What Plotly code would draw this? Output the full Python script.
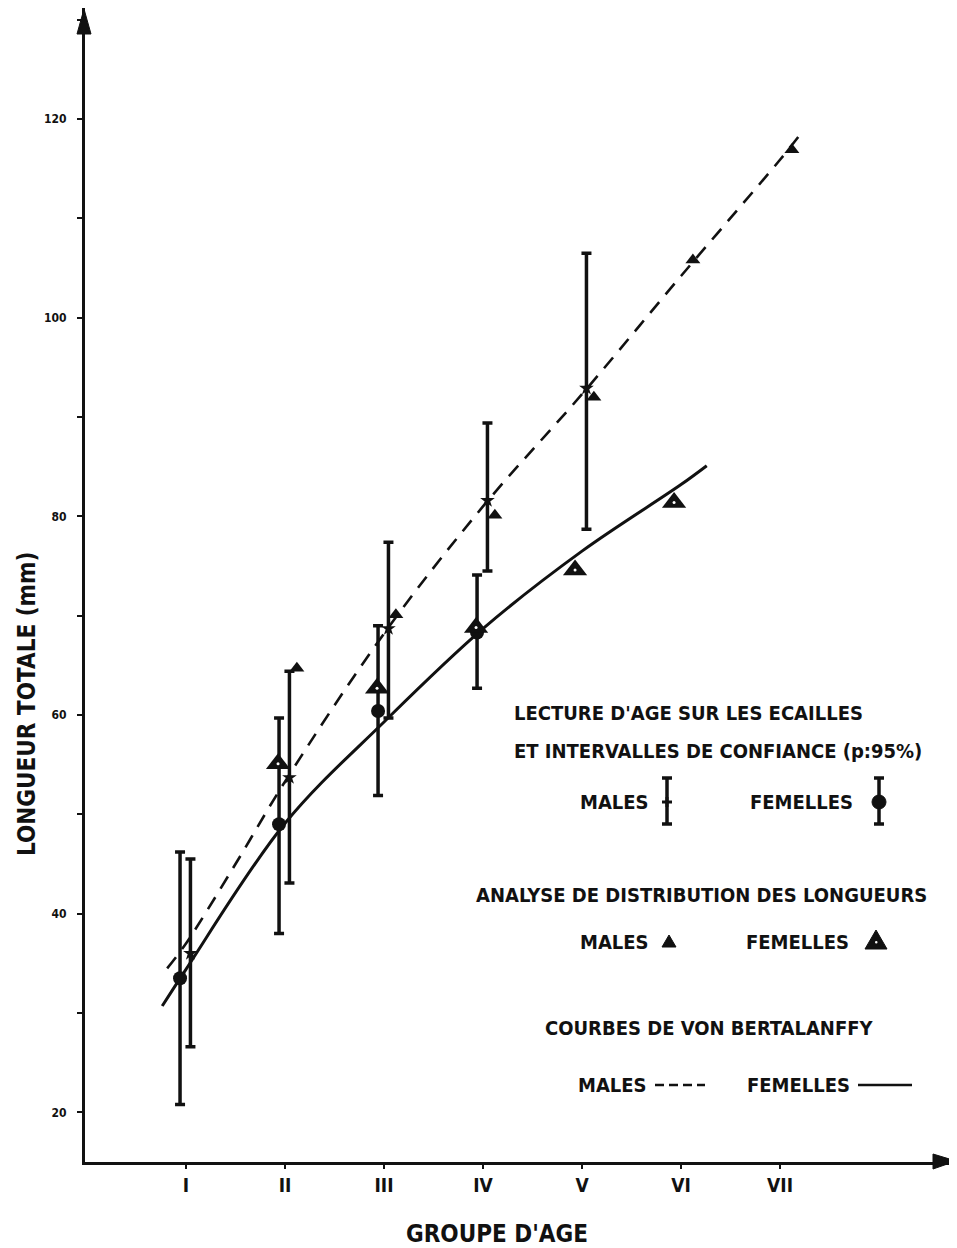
import plotly.graph_objects as go

# Scale readings (lecture d'age sur les ecailles) with 95% confidence limits
age_scale_f = [1, 2, 3, 4]
len_scale_f = [33.5, 49.0, 60.4, 68.3]
ci_hi_f = [46.2, 59.7, 69.0, 74.1]
ci_lo_f = [20.8, 38.0, 51.9, 62.7]

age_scale_m = [1, 2, 3, 4, 5]
len_scale_m = [36.0, 53.7, 68.7, 81.6, 92.9]
ci_hi_m = [45.5, 64.4, 77.4, 89.4, 106.5]
ci_lo_m = [26.6, 43.1, 59.7, 74.5, 78.7]

# Length distribution analysis
age_dist_m = [2, 3, 4, 5, 6, 7]
len_dist_m = [64.7, 70.1, 80.1, 92.0, 105.8, 116.9]
age_dist_f = [2, 3, 4, 5, 6]
len_dist_f = [55.1, 62.7, 68.8, 74.6, 81.4]

# Von Bertalanffy curves
curve_age_m = [0.81, 1.0, 1.5, 2.0, 3.0, 4.0, 5.0, 6.0, 7.0, 7.2]
curve_len_m = [34.5, 37.0, 45.0, 53.3, 68.2, 81.0, 92.3, 104.2, 115.9, 118.4]
curve_age_f = [0.76, 1.0, 2.0, 3.0, 4.0, 5.0, 6.0, 6.26]
curve_len_f = [30.7, 34.4, 49.1, 59.3, 68.7, 76.5, 83.2, 85.1]

age_ticks = [1, 2, 3, 4, 5, 6, 7]
age_labels = ["I", "II", "III", "IV", "V", "VI", "VII"]
len_ticks = [20, 40, 60, 80, 100, 120]

FONT = "Liberation Sans Narrow, DejaVu Sans Condensed, Arial Narrow, Liberation Sans, sans-serif"
BLACK = "#111111"

# page offset of the plot div (body margin) and plot area in page pixels
OFF = 8
W, H = 957 - OFF, 1248 - OFF
L, R, T, B = 85, 950, 8, 1162


def px(x):
    return (x - L) / (R - L)


def py(y):
    return (B - y) / (B - T)


fig = go.Figure()

fig.add_trace(go.Scatter(
    x=curve_age_m, y=curve_len_m, mode="lines", line_shape="spline",
    line=dict(color=BLACK, width=2.6, dash="14px,10px"), showlegend=False))
fig.add_trace(go.Scatter(
    x=curve_age_f, y=curve_len_f, mode="lines", line_shape="spline",
    line=dict(color=BLACK, width=3), showlegend=False))

fig.add_trace(go.Scatter(
    x=[a - 0.06 for a in age_scale_f], y=len_scale_f, mode="markers",
    marker=dict(symbol="circle", size=14, color=BLACK),
    error_y=dict(type="data", symmetric=False,
                 array=[h - v for h, v in zip(ci_hi_f, len_scale_f)],
                 arrayminus=[v - l for v, l in zip(len_scale_f, ci_lo_f)],
                 color=BLACK, thickness=3.5, width=5),
    showlegend=False))
fig.add_trace(go.Scatter(
    x=[a + 0.045 for a in age_scale_m], y=len_scale_m, mode="markers",
    marker=dict(symbol="star", size=11, color=BLACK),
    error_y=dict(type="data", symmetric=False,
                 array=[h - v for h, v in zip(ci_hi_m, len_scale_m)],
                 arrayminus=[v - l for v, l in zip(len_scale_m, ci_lo_m)],
                 color=BLACK, thickness=3.5, width=5),
    showlegend=False))

fig.add_trace(go.Scatter(
    x=[a + 0.12 for a in age_dist_m], y=len_dist_m, mode="markers",
    marker=dict(symbol="triangle-up", size=13, color=BLACK),
    showlegend=False))
fig.add_trace(go.Scatter(
    x=[a - 0.07 for a in age_dist_f], y=len_dist_f, mode="markers",
    marker=dict(symbol="triangle-up", size=21, color=BLACK),
    showlegend=False))
fig.add_trace(go.Scatter(
    x=[a - 0.07 for a in age_dist_f], y=len_dist_f, mode="markers",
    marker=dict(symbol="circle", size=3, color="white"),
    showlegend=False))

shapes = []
# axis arrows
shapes.append(dict(type="path", xref="paper", yref="paper",
                   path=f"M {px(84)} {py(9)} L {px(77)} {py(34)} L {px(91)} {py(34)} Z",
                   fillcolor=BLACK, line=dict(color=BLACK, width=1)))
shapes.append(dict(type="path", xref="paper", yref="paper",
                   path=f"M {px(956)} {py(1161)} L {px(933)} {py(1154)} L {px(933)} {py(1169)} Z",
                   fillcolor=BLACK, line=dict(color=BLACK, width=1)))


def legend_bar(x, y0, y1):
    shapes.append(dict(type="line", xref="paper", yref="paper", x0=px(x), x1=px(x),
                       y0=py(y0), y1=py(y1), line=dict(color=BLACK, width=3.5)))
    for yy in (y0, y1):
        shapes.append(dict(type="line", xref="paper", yref="paper", x0=px(x - 5), x1=px(x + 5),
                           y0=py(yy), y1=py(yy), line=dict(color=BLACK, width=3.5)))


legend_bar(667, 778, 824)
legend_bar(879, 778, 824)
shapes.append(dict(type="circle", xref="paper", yref="paper",
                   x0=px(872), x1=px(886), y0=py(795), y1=py(809),
                   fillcolor=BLACK, line=dict(color=BLACK, width=1)))
shapes.append(dict(type="path", xref="paper", yref="paper",
                   path=f"M {px(662)} {py(802)} L {px(672)} {py(802)} M {px(667)} {py(797)} L {px(667)} {py(807)}",
                   line=dict(color=BLACK, width=3)))
# triangles
shapes.append(dict(type="path", xref="paper", yref="paper",
                   path=f"M {px(669)} {py(935)} L {px(676)} {py(947)} L {px(662)} {py(947)} Z",
                   fillcolor=BLACK, line=dict(color=BLACK, width=1)))
shapes.append(dict(type="path", xref="paper", yref="paper",
                   path=f"M {px(876)} {py(930)} L {px(887)} {py(949)} L {px(865)} {py(949)} Z",
                   fillcolor=BLACK, line=dict(color=BLACK, width=1)))
shapes.append(dict(type="circle", xref="paper", yref="paper",
                   x0=px(875), x1=px(877.5), y0=py(941), y1=py(943.5),
                   fillcolor="white", line=dict(color="white", width=0)))
# curve samples
shapes.append(dict(type="line", xref="paper", yref="paper", x0=px(655), x1=px(705),
                   y0=py(1085), y1=py(1085), line=dict(color=BLACK, width=2.6, dash="9px,5px")))
shapes.append(dict(type="line", xref="paper", yref="paper", x0=px(858), x1=px(912),
                   y0=py(1085), y1=py(1085), line=dict(color=BLACK, width=2.6)))

annotations = []


def label(text, x, y, size=20):
    annotations.append(dict(text=text, xref="paper", yref="paper", x=px(x), y=py(y),
                            xanchor="left", yanchor="middle", showarrow=False,
                            font=dict(family=FONT, size=size, color=BLACK, weight="bold")))


label("LECTURE D'AGE SUR LES ECAILLES", 512, 713)
label("ET INTERVALLES DE CONFIANCE (p:95%)", 512, 751)
label("MALES", 578, 802)
label("FEMELLES", 748, 802)
label("ANALYSE DE DISTRIBUTION DES LONGUEURS", 474, 895)
label("MALES", 578, 942)
label("FEMELLES", 744, 942)
label("COURBES DE VON BERTALANFFY", 543, 1028)
label("MALES", 576, 1085)
label("FEMELLES", 745, 1085)

annotations.append(dict(text="LONGUEUR TOTALE (mm)", xref="paper", yref="paper",
                        x=px(27), y=py(704), textangle=-90, showarrow=False,
                        xanchor="center", yanchor="middle",
                        font=dict(family=FONT, size=24, color=BLACK, weight="bold")))
annotations.append(dict(text="GROUPE D'AGE", xref="paper", yref="paper",
                        x=px(497), y=py(1234), showarrow=False,
                        xanchor="center", yanchor="middle",
                        font=dict(family=FONT, size=24, color=BLACK, weight="bold")))

fig.update_layout(
    width=W, height=H,
    margin=dict(l=L - OFF, r=W - (R - OFF), t=T - OFF, b=H - (B - OFF)),
    paper_bgcolor="white", plot_bgcolor="white",
    shapes=shapes, annotations=annotations,
    showlegend=False,
    xaxis=dict(range=[-0.02, 8.717], showgrid=False, zeroline=False,
               showline=True, linecolor=BLACK, linewidth=3,
               tickmode="array", tickvals=age_ticks, ticktext=age_labels,
               ticks="outside", ticklen=4, tickwidth=2, tickcolor=BLACK,
               tickfont=dict(family=FONT, size=19, color=BLACK, weight="bold")),
    yaxis=dict(range=[15.0, 131.18], showgrid=False, zeroline=False,
               showline=True, linecolor=BLACK, linewidth=3,
               tickmode="array", tickvals=len_ticks,
               ticks="outside", ticklen=5, tickwidth=2, tickcolor=BLACK,
               ticklabelstandoff=8,
               minor=dict(dtick=10, tick0=0, ticks="outside", ticklen=5, tickwidth=2,
                          tickcolor=BLACK),
               tickfont=dict(family=FONT, size=12, color=BLACK, weight="bold")),
)

fig.write_html("out.html")
